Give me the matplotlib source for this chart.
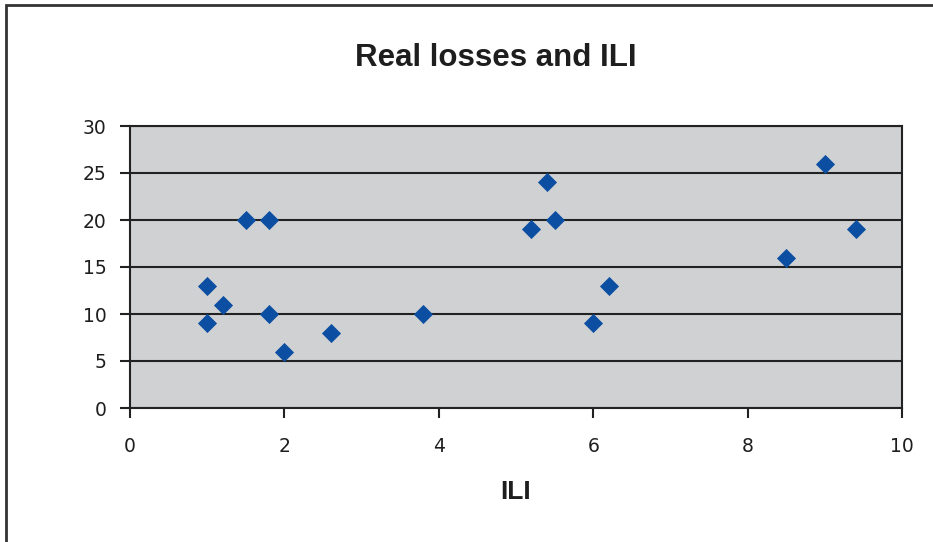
import matplotlib.pyplot as plt
from matplotlib.patches import Rectangle

plt.rcParams['font.family'] = ['Liberation Sans', 'DejaVu Sans']

ili = [1, 1, 1.2, 1.5, 1.8, 1.8, 2, 2.6, 3.8, 5.2, 5.4, 5.5, 6, 6.2, 8.5, 9, 9.4]
losses = [13, 9, 11, 20, 20, 10, 6, 8, 10, 19, 24, 20, 9, 13, 16, 26, 19]

fig = plt.figure(figsize=(9.33, 5.42), dpi=100)
# outer chart frame
fig.patches.append(Rectangle((6/933, -0.05), 1.2, 1 - 5/542 + 0.05, transform=fig.transFigure,
                             fill=False, edgecolor='#333333', linewidth=2))

ax = fig.add_axes([130/933, 1 - 408/542, 772/933, 282/542])
ax.set_facecolor('#d0d1d3')
ax.scatter(ili, losses, marker='D', s=95, color='#0b4ea2', zorder=3, linewidths=0)

ax.set_xlim(0, 10)
ax.set_ylim(0, 30)
ax.set_xticks(range(0, 11, 2))
ax.set_yticks(range(0, 31, 5))
ax.yaxis.grid(True, color='#222222', linewidth=1.5)
ax.set_axisbelow(True)
for s in ax.spines.values():
    s.set_color('#222222')
    s.set_linewidth(1.5)
ax.tick_params(direction='out', length=7, width=1.5, color='#222222', labelsize=13.5)
ax.tick_params(axis='y', pad=10)
ax.tick_params(axis='x', pad=14)
for lab in ax.get_xticklabels() + ax.get_yticklabels():
    lab.set_family('DejaVu Sans')
    lab.set_color('#1e1e1e')

ax.set_xlabel('ILI', fontsize=19, fontweight='bold', labelpad=17, color='#1e1e1e')
fig.text(496/933, 1 - 58/542, 'Real losses and ILI', fontsize=22.5, fontweight='bold',
         ha='center', va='center', color='#1e1e1e')

fig.savefig('out.png', dpi=100)
